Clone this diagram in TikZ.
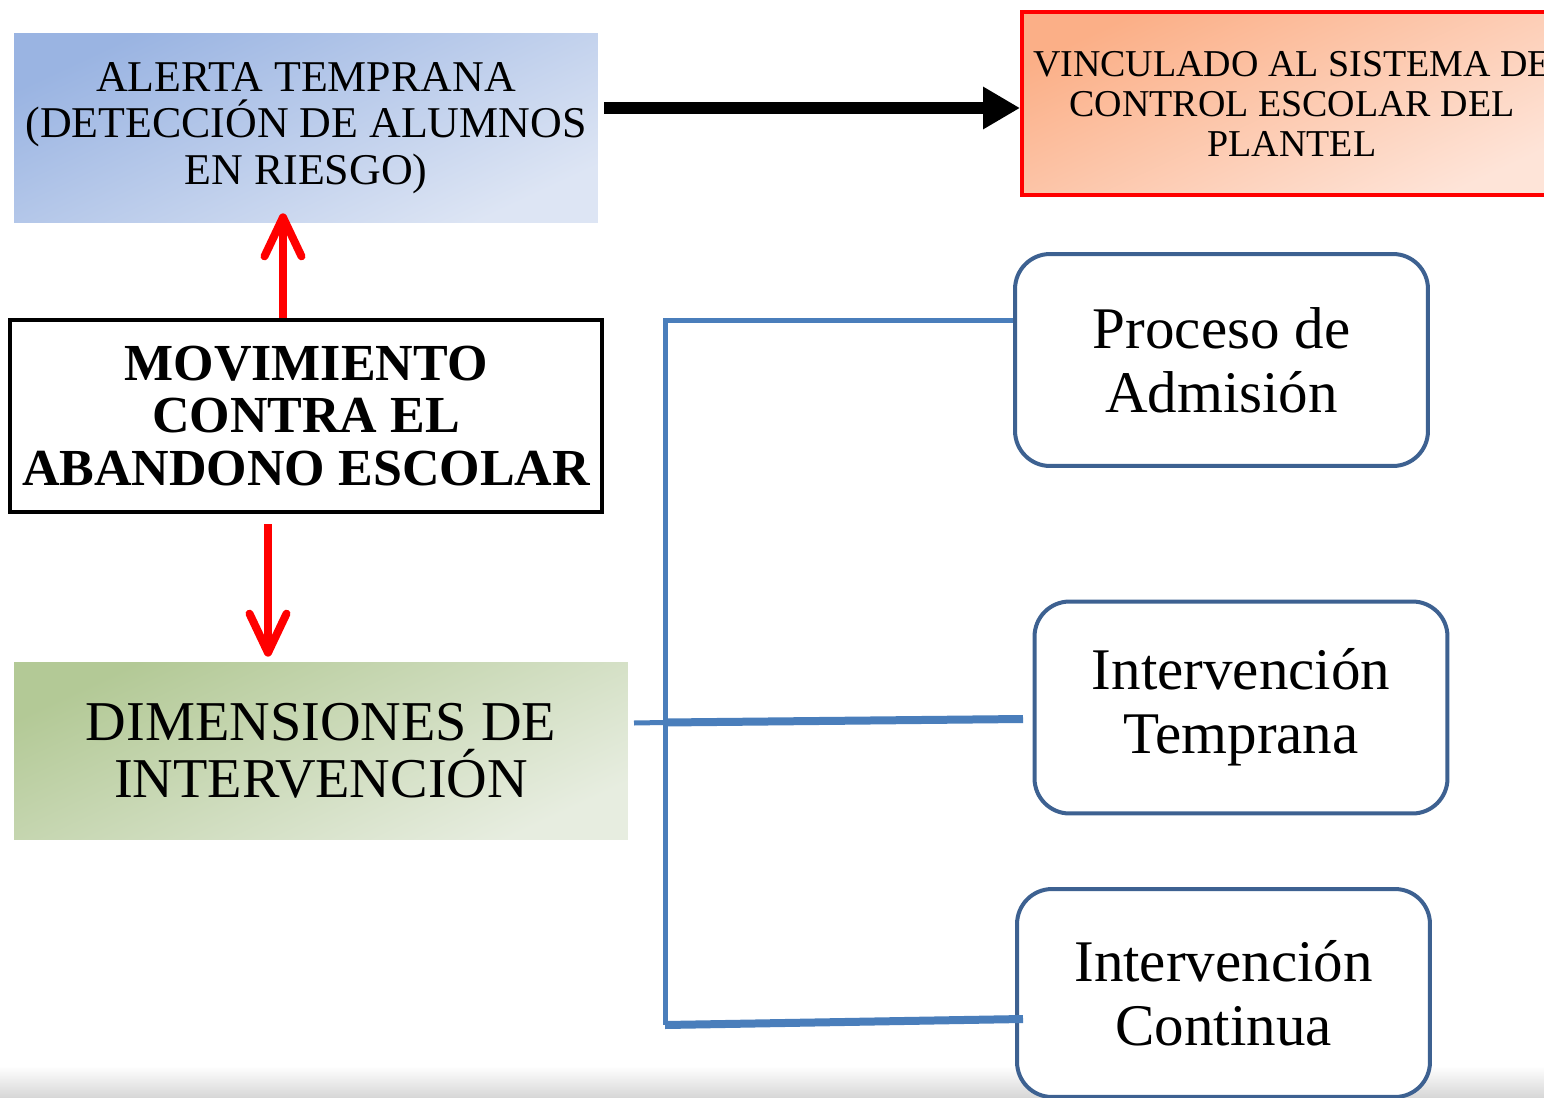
\documentclass[tikz,border=0pt]{standalone}
\usepackage{fontspec}
\setmainfont{Liberation Serif}
\usetikzlibrary{arrows.meta,calc}
\definecolor{alertA}{HTML}{9AB4E2}
\definecolor{alertB}{HTML}{DDE5F4}
\definecolor{vincA}{HTML}{FBAF87}
\definecolor{vincB}{HTML}{FEE4D8}
\definecolor{dimsA}{HTML}{B3C996}
\definecolor{dimsB}{HTML}{E7EDE0}
\definecolor{conn}{HTML}{4A7EBB}
\definecolor{rbord}{HTML}{3D6191}
\definecolor{pure red}{HTML}{FF0000}
\begin{document}
\begin{tikzpicture}[x=0.02cm,y=-0.02cm,
  alertbox/.style={rectangle, inner sep=0pt, minimum width=11.68cm, minimum height=3.8cm,
    top color=alertA, bottom color=alertB, shading angle=25, align=center,
    font=\fontsize{25}{26.3}\selectfont},
  vincbox/.style={rectangle, draw=pure red, line width=0.08cm, inner sep=0pt,
    minimum width=10.8cm, minimum height=3.66cm,
    top color=vincA, bottom color=vincB, shading angle=25, align=center,
    font=\fontsize{21.6}{22.8}\selectfont},
  movbox/.style={rectangle, draw=black, line width=0.09cm, fill=white, inner sep=0pt,
    minimum width=11.84cm, minimum height=3.84cm, align=center,
    font=\bfseries\fontsize{29.6}{29.8}\selectfont},
  dimsbox/.style={rectangle, inner sep=0pt, minimum width=12.28cm, minimum height=3.56cm,
    top color=dimsA, bottom color=dimsB, shading angle=25, align=center,
    font=\fontsize{32}{32.5}\selectfont},
  roundbox/.style={rectangle, rounded corners=0.7cm, draw=rbord, line width=0.08cm,
    fill=white, inner sep=0pt, minimum width=8.26cm, minimum height=4.24cm, align=center,
    font=\fontsize{33.6}{36.5}\selectfont},
  redarrow/.style={draw=pure red, line width=0.16cm,
    -{Straight Barb[length=0.78cm,width=0.74cm,round]}},
  blackarrow/.style={draw=black, line width=0.24cm,
    -{Triangle[length=0.74cm,width=0.8cm]}},
  connline/.style={draw=conn, line width=0.1cm},
  connthick/.style={draw=conn, line width=0.16cm}
]
\useasboundingbox (0,0) rectangle (1544,1098);
\clip (0,0) rectangle (1544,1098);
\fill[white] (0,0) rectangle (1544,1098);

% bottom band
\shade[top color=white, bottom color=black!16] (0,1066) rectangle (1544,1098);

% nodes
\node[alertbox] (alert) at (306,128) {ALERTA TEMPRANA\\(DETECCIÓN DE ALUMNOS\\EN RIESGO)};
\node[vincbox] (vinc) at (1292,103.5) {VINCULADO AL SISTEMA DE\\CONTROL ESCOLAR DEL\\PLANTEL};
\node[movbox] (mov) at (306,416) {MOVIMIENTO\\CONTRA EL\\ABANDONO ESCOLAR};
\node[dimsbox] (dims) at (321,751) {DIMENSIONES DE\\INTERVENCIÓN};
\node[roundbox] (p1) at (1221.5,360) {Proceso de\\Admisión};
\node[roundbox] (p2) at (1241,707.5) {Intervención\\Temprana};
\node[roundbox, minimum height=4.16cm] (p3) at (1223.5,993) {Intervención\\Continua};

% arrows
\draw[blackarrow, shorten <=0.12cm] (alert.east |- 0,108) -- (vinc.west |- 0,108);
\draw[redarrow, shorten >=-0.2cm] (mov.north -| 283,0) -- (alert.south -| 283,0);
\draw[redarrow, shorten <=0.2cm, shorten >=0.1cm] (mov.south -| 268,0) -- (dims.north -| 268,0);

% connectors
\coordinate (trunkTop) at (665,320);
\coordinate (trunkBot) at (665,1025);
\coordinate (midL) at (634,723);
\coordinate (midJ) at (665,722.5);
\coordinate (midR) at (1023,719);
\coordinate (botR) at (1023,1019);
\draw[connline] (trunkTop -| p1.west) -- (trunkTop) -- (trunkBot);
\draw[connline] (midL) -- (midJ);
\draw[connthick] (midJ) -- (midR);
\draw[connthick] (trunkBot) -- (botR);
\end{tikzpicture}
\end{document}
